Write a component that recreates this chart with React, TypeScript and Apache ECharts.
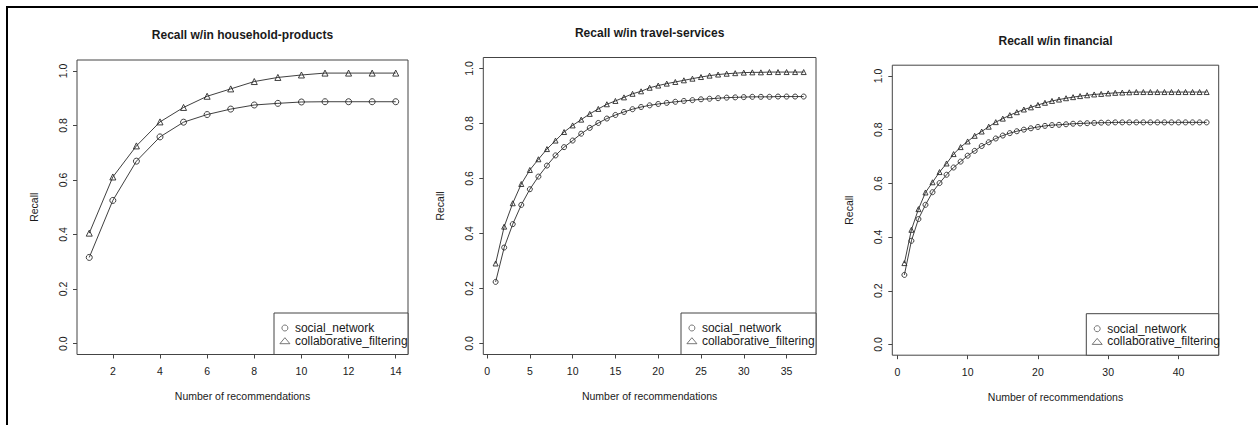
import React, { useEffect, useRef } from 'react';
import * as echarts from 'echarts';

// ---------------- data ----------------
const seriesNames = ['social_network', 'collaborative_filtering'];
const panelTitles = ['Recall w/in household-products', 'Recall w/in travel-services', 'Recall w/in financial'];
const xAxisTitle = 'Number of recommendations';
const yAxisTitle = 'Recall';

const householdSocial = [0.316, 0.525, 0.669, 0.758, 0.812, 0.840, 0.860, 0.875, 0.881, 0.886, 0.887, 0.887, 0.887, 0.887];
const householdCollab = [0.405, 0.611, 0.725, 0.813, 0.866, 0.907, 0.934, 0.961, 0.976, 0.985, 0.992, 0.992, 0.992, 0.992];

const travelSocial = [0.224, 0.349, 0.434, 0.504, 0.561, 0.607, 0.647, 0.684, 0.714, 0.738, 0.763, 0.784, 0.802, 0.818, 0.831, 0.842, 0.852, 0.860, 0.866, 0.871, 0.875, 0.879, 0.882, 0.885, 0.888, 0.890, 0.892, 0.894, 0.895, 0.896, 0.897, 0.897, 0.897, 0.898, 0.898, 0.898, 0.898];
const travelCollab = [0.291, 0.425, 0.510, 0.580, 0.631, 0.670, 0.707, 0.738, 0.769, 0.793, 0.814, 0.835, 0.853, 0.870, 0.882, 0.895, 0.908, 0.917, 0.930, 0.938, 0.945, 0.951, 0.957, 0.963, 0.969, 0.974, 0.978, 0.981, 0.983, 0.985, 0.986, 0.986, 0.987, 0.987, 0.987, 0.987, 0.987];

const financialSocial = [0.259, 0.386, 0.467, 0.520, 0.567, 0.601, 0.632, 0.659, 0.681, 0.703, 0.721, 0.739, 0.753, 0.767, 0.778, 0.787, 0.794, 0.800, 0.805, 0.810, 0.814, 0.817, 0.818, 0.820, 0.822, 0.823, 0.824, 0.825, 0.826, 0.826, 0.827, 0.827, 0.827, 0.827, 0.827, 0.827, 0.827, 0.827, 0.827, 0.827, 0.827, 0.827, 0.827, 0.827];
const financialCollab = [0.303, 0.427, 0.504, 0.566, 0.604, 0.642, 0.674, 0.709, 0.735, 0.756, 0.777, 0.793, 0.811, 0.828, 0.841, 0.854, 0.865, 0.875, 0.883, 0.892, 0.900, 0.907, 0.912, 0.917, 0.921, 0.925, 0.928, 0.931, 0.933, 0.935, 0.937, 0.938, 0.939, 0.940, 0.940, 0.940, 0.940, 0.940, 0.940, 0.940, 0.940, 0.940, 0.940, 0.940];

const yTicks = [0, 0.2, 0.4, 0.6, 0.8, 1.0];
const householdXTicks = [2, 4, 6, 8, 10, 12, 14];
const travelXTicks = [0, 5, 10, 15, 20, 25, 30, 35];
const financialXTicks = [0, 10, 20, 30, 40];

// ---------------- layout / style ----------------
const FONT = '"Liberation Sans", Arial, Helvetica, sans-serif';
const INK = '#1a1a1a';
const FRAME = '#444';
const LINE = '#2a2a2a';

const panels = [
  { social: householdSocial, collab: householdCollab, ticks: householdXTicks, left: 77, top: 60, width: 331, height: 294.5, xMin: 0.48, xMax: 14.52, sym: 6, titleTop: 28.5, legW: 134 },
  { social: travelSocial, collab: travelCollab, ticks: travelXTicks, left: 483.3, top: 57.5, width: 332.7, height: 297, xMin: -0.44, xMax: 38.44, sym: 5, titleTop: 26.5, legW: 135 },
  { social: financialSocial, collab: financialCollab, ticks: financialXTicks, left: 892.3, top: 65.2, width: 326.4, height: 290, xMin: -0.72, xMax: 45.72, sym: 5, titleTop: 34.5, legW: 132.4 },
];
const LEG_H = 41.5;

export default function App() {
  const ref = useRef<HTMLDivElement>(null);

  useEffect(() => {
    if (!ref.current) return;
    const chart = echarts.init(ref.current, undefined, { renderer: 'svg' });

    const grid = panels.map((p) => ({
      left: p.left, top: p.top, width: p.width, height: p.height,
      show: true, borderColor: FRAME, borderWidth: 1, backgroundColor: 'transparent',
      containLabel: false, outerBoundsMode: 'none',
    }));

    const xAxis = panels.map((p, i) => ({
      type: 'value', gridIndex: i, min: p.xMin, max: p.xMax,
      splitLine: { show: false },
      axisLine: { show: false, onZero: false },
      axisTick: { show: true, inside: false, length: 4, customValues: p.ticks, lineStyle: { color: FRAME, width: 1 } },
      axisLabel: { customValues: p.ticks, color: INK, fontSize: 10.5, fontFamily: FONT, margin: 11 },
      name: xAxisTitle, nameLocation: 'middle', nameGap: 36,
      nameTextStyle: { color: INK, fontSize: 10.5, fontFamily: FONT },
    }));

    const yAxis = panels.map((p, i) => ({
      type: 'value', gridIndex: i, min: -0.04, max: 1.04,
      splitLine: { show: false },
      axisLine: { show: false, onZero: false },
      axisTick: { show: true, inside: false, length: 4, customValues: yTicks, lineStyle: { color: FRAME, width: 1 } },
      axisLabel: {
        customValues: yTicks, rotate: 90, color: INK, fontSize: 10.5, fontFamily: FONT, margin: 9,
        formatter: (v: number) => v.toFixed(1),
      },
      name: yAxisTitle, nameLocation: 'middle', nameGap: 38,
      nameTextStyle: { color: INK, fontSize: 10.5, fontFamily: FONT },
    }));

    const series: any[] = [];
    panels.forEach((p, i) => {
      [p.social, p.collab].forEach((vals, k) => {
        series.push({
          type: 'line', name: seriesNames[k], xAxisIndex: i, yAxisIndex: i,
          data: vals.map((v, j) => [j + 1, v]),
          symbol: k === 0 ? 'circle' : 'triangle',
          symbolSize: p.sym, showSymbol: true, showAllSymbol: true,
          lineStyle: { color: LINE, width: 0.9 },
          itemStyle: { color: 'rgba(255,255,255,0)', borderColor: LINE, borderWidth: 0.9 },
          emphasis: { disabled: true }, silent: true,
        });
      });
    });

    const title = panels.map((p, i) => ({
      text: panelTitles[i], left: p.left + p.width / 2, top: p.titleTop, textAlign: 'center', padding: 0,
      textStyle: { color: INK, fontSize: 12, fontWeight: 'bold', fontFamily: FONT },
    }));

    const legend = panels.map((p) => {
      const boxLeft = p.left + p.width - p.legW;
      const boxTop = p.top + p.height - LEG_H;
      return {
        data: [{ name: seriesNames[0], icon: 'circle' }, { name: seriesNames[1], icon: 'triangle' }],
        orient: 'vertical', left: boxLeft + 5.5, top: boxTop + 9, padding: 0,
        itemWidth: 10, itemHeight: 6, itemGap: 0.7, selectedMode: false,
        itemStyle: { color: 'rgba(255,255,255,0)', borderColor: '#555', borderWidth: 0.8 },
        textStyle: { color: INK, fontSize: 12, lineHeight: 12, fontFamily: FONT },
      };
    });

    const graphic: any[] = [
      { type: 'rect', shape: { x: 6, y: 6, width: 1260, height: 2 }, style: { fill: '#000' }, silent: true },
      { type: 'rect', shape: { x: 6, y: 6, width: 2, height: 430 }, style: { fill: '#000' }, silent: true },
    ];
    panels.forEach((p) => {
      graphic.push({
        type: 'rect', z: 1,
        shape: { x: p.left + p.width - p.legW, y: p.top + p.height - LEG_H, width: p.legW, height: LEG_H },
        style: { fill: '#fff', stroke: FRAME, lineWidth: 1 }, silent: true,
      });
    });

    chart.setOption({
      animation: false,
      backgroundColor: '#fff',
      textStyle: { fontFamily: FONT },
      title, grid, xAxis, yAxis, series, legend, graphic,
    } as any);

    return () => chart.dispose();
  }, []);

  return <div ref={ref} style={{ position: 'absolute', left: 0, top: 0, width: 1258, height: 425 }} />;
}
